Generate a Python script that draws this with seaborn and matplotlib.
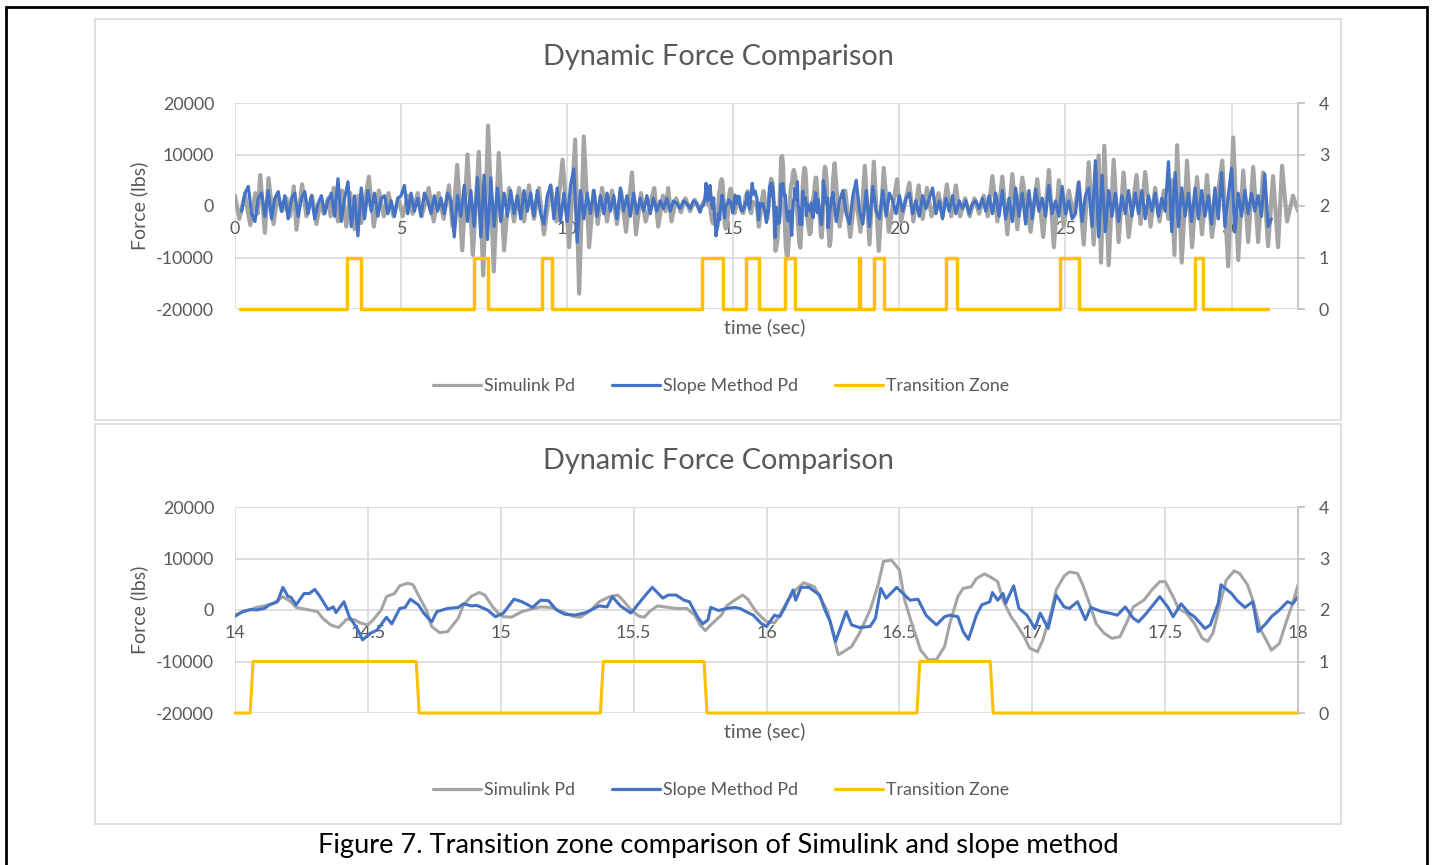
import numpy as np
import pandas as pd
import matplotlib
matplotlib.use("Agg")
import matplotlib.pyplot as plt
import seaborn as sns
from matplotlib.patches import Rectangle
from matplotlib.lines import Line2D

# ---- data (force values in thousands of lbs) ----
# Simulink Pd, 0-14 s (peaks/troughs)
gray_a_t = [0.00, 0.13, 0.30, 0.46, 0.61, 0.68, 0.76, 0.90, 1.01, 1.16,
            1.28, 1.42, 1.55, 1.66, 1.77, 1.85, 2.02, 2.15, 2.32, 2.45,
            2.58, 2.67, 2.80, 2.88, 2.97, 3.10, 3.22, 3.35, 3.47, 3.60,
            3.72, 3.80, 4.03, 4.18, 4.33, 4.48, 4.62, 4.77, 4.92, 5.05,
            5.20, 5.35, 5.50, 5.62, 5.83, 5.98, 6.13, 6.28, 6.44, 6.55,
            6.69, 6.84, 7.00, 7.16, 7.34, 7.47, 7.62, 7.79, 7.94, 8.10,
            8.25, 8.40, 8.55, 8.70, 8.85, 9.00, 9.15, 9.30, 9.50, 9.68,
            9.86, 10.06, 10.24, 10.36, 10.50, 10.66, 10.80, 10.92, 11.05, 11.20,
            11.35, 11.50, 11.62, 11.77, 11.95, 12.07, 12.22, 12.36, 12.62, 12.74,
            12.88, 12.96, 13.04, 13.14, 13.28, 13.42, 13.56, 13.70, 13.84]
gray_a_k = [2.0, -2.5, 2.2, -3.7, 2.5, -1.5, 6.0, -5.2, 5.4, -3.5,
            2.0, -1.0, 1.5, -2.0, 3.8, -4.6, 4.2, -2.0, 2.0, -3.5,
            1.0, -1.5, 1.5, -2.0, 3.5, -3.0, 3.0, -4.0, 2.5, -4.5,
            2.0, -3.3, 5.7, -4.0, 3.0, -2.0, 2.5, -2.0, 1.5, -2.0,
            2.0, -1.5, 2.5, -2.0, 3.5, -3.0, 2.5, -2.5, 4.0, -4.0,
            8.0, -8.6, 10.0, -9.5, 10.5, -13.5, 15.6, -12.7, 10.3, -8.6,
            3.5, -3.0, 3.5, -3.0, 4.0, -2.5, 3.5, -5.5, 4.0, -3.0,
            9.0, -8.0, 12.9, -17.0, 13.5, -8.0, 3.0, -3.5, 3.5, -3.0,
            3.0, -3.5, 3.0, -5.0, 6.5, -5.5, 2.5, -3.0, 3.5, -4.0,
            2.0, -1.0, 3.5, -3.0, 1.5, -1.2, 1.5, -1.0, 1.2]

# Simulink Pd, 18-32 s
gray_c_t = [18.05, 18.20, 18.37, 18.52, 18.67, 18.83, 18.96, 19.10, 19.23, 19.38,
            19.53, 19.68, 19.93, 20.05, 20.30, 20.42, 20.58, 20.70, 20.83, 20.97,
            21.18, 21.30, 21.43, 21.56, 21.70, 21.83, 21.98, 22.12, 22.26, 22.40,
            22.54, 22.66, 22.80, 22.95, 23.10, 23.25, 23.40, 23.55, 23.70, 23.95,
            24.15, 24.33, 24.50, 24.65, 24.80, 24.95, 25.10, 25.25, 25.40, 25.55,
            25.70, 25.85, 26.00, 26.07, 26.17, 26.30, 26.45, 26.60, 26.75, 26.90,
            27.14, 27.26, 27.40, 27.56, 27.70, 27.83, 27.96, 28.10, 28.20, 28.28,
            28.36, 28.50, 28.66, 28.81, 28.96, 29.11, 29.26, 29.41, 29.72, 29.90,
            30.05, 30.20, 30.35, 30.50, 30.65, 30.80, 30.95, 31.10, 31.25, 31.40,
            31.52, 31.67, 31.85, 32.00]
gray_c_k = [8.3, -4.0, 3.0, -6.0, 2.5, -5.0, 7.8, -7.5, 8.6, -8.7,
            7.4, -5.0, 5.2, -3.0, 4.5, -3.0, 4.0, -2.5, 3.5, -2.0,
            2.5, -2.0, 4.2, -2.0, 4.0, -2.0, 1.5, -2.0, 1.5, -1.5,
            2.0, -2.0, 5.8, -3.0, 5.7, -5.5, 6.2, -4.5, 5.5, -5.0,
            5.2, -6.0, 7.0, -8.0, 5.0, -4.0, 3.0, -2.0, 4.5, -7.5,
            8.5, -7.5, 9.8, -11.0, 11.7, -11.5, 9.0, -7.0, 6.5, -6.0,
            6.0, -3.5, 6.6, -4.0, 3.5, -3.0, 3.0, -2.5, 5.0, -9.5,
            11.8, -11.0, 8.8, -8.0, 5.6, -5.5, 6.0, -6.0, 8.8, -11.7,
            13.3, -10.5, 6.9, -7.0, 7.6, -7.0, 6.5, -7.8, 5.8, -8.0,
            7.8, -3.0, 2.0, -1.0]

# Slope Method Pd, sampled every 0.1 s: 0.2-13.9 s and 18.1-31.2 s
blue_step = 0.1
blue_a_start = 0.2
blue_a_k = [-1.0, 2.5, 3.8, -1.5, -3.0, 1.5, 2.5, -2.0,
            3.0, -2.5, 1.5, 2.8, -1.0, 2.0, -2.5, 1.5, 2.5, -2.0,
            1.5, 2.8, -1.5, 2.0, -2.5, 0.5, 2.0, -1.5, 1.0, 2.5,
            -2.0, 5.3, -3.0, 1.5, 4.7, -4.0, 2.0, -5.8, 3.5, -2.5,
            3.0, -1.0, 2.5, -2.0, 1.5, 2.0, -1.5, 1.0, -2.0, 1.5,
            2.0, 4.0, -1.5, 2.5, -1.0, 1.5, -2.0, 2.5, 1.0, -1.5,
            2.0, -1.0, 1.5, -1.5, 2.5, 1.0, -6.0, 2.0, -2.0, 4.0,
            -3.0, 3.0, -4.0, 5.5, -6.0, 6.0, -6.5, 5.5, -4.0, 3.5,
            -3.0, 2.5, -2.0, 3.0, -1.5, 2.0, -2.5, 3.0, -1.0, 2.5,
            -2.0, 3.0, -1.5, -3.5, 2.0, 4.0, -2.5, 3.5, -3.0, 2.5,
            -3.0, 4.0, 7.2, -7.0, 3.0, -2.5, 2.5, -1.5, 3.0, -2.0,
            2.0, -1.5, 2.5, -1.0, 2.0, -2.5, 3.5, -1.0, 2.0, -2.0,
            2.5, -1.5, 1.5, -1.0, 2.0, -1.5, 1.5, -1.0, 1.0, -0.5,
            1.5, -1.0, 1.0, 0.5, -0.5, 1.0, 0.5, -0.5, 1.0, 0.5]
blue_c_start = 18.1
blue_c_k = [-3.0, 1.0, 3.0, -1.5, -3.5, 2.0, 5.0, -1.0, -3.5,
            3.0, -4.0, 3.8, -1.0, -2.5, 3.0, -2.0, 2.5, 1.0, -1.5,
            2.0, -1.0, 1.5, 2.5, -1.5, 1.0, -2.0, 2.0, -0.5, 1.5,
            3.5, -1.5, 1.0, -2.5, 1.5, -1.0, 2.0, -1.5, 1.0, -0.5,
            1.0, -1.5, 0.5, 1.0, -0.5, 1.5, -1.0, 2.0, -1.5, 2.5,
            -2.0, 3.0, -2.5, 1.5, -3.0, 3.5, -2.0, 2.5, -3.5, 3.0,
            -2.5, 3.3, -1.0, 1.5, -2.0, 4.0, -1.5, 1.0, -2.0, 3.8,
            -1.5, 1.0, -2.5, -1.5, 4.7, -3.0, 2.0, 3.5, -4.0, 8.8,
            -6.0, 6.0, -5.0, 3.0, -2.0, 2.5, -3.0, 2.0, -1.5, 3.0,
            -2.0, 2.5, -1.5, 3.0, -2.5, 2.0, -1.0, 2.5, -2.0, 1.5,
            -1.0, 8.6, -5.0, 6.5, -4.0, 3.5, -2.0, 2.5, -3.0, 3.5,
            -2.5, 3.0, -2.0, 2.0, -3.5, 3.5, -2.5, 6.5, -4.0, 2.0,
            7.3, -5.0, 2.5, -2.0, 3.0, -1.5, 2.5, -1.0, 2.0, -2.0,
            6.2, -4.0, -2.5]

# 14-18 s detail (lower chart, also used in the upper chart)
sim_t = [14.00, 14.03, 14.06, 14.08, 14.11, 14.145, 14.18, 14.21, 14.23, 14.27,
         14.31, 14.33, 14.36, 14.39, 14.42, 14.45, 14.47, 14.50, 14.52, 14.55,
         14.57, 14.60, 14.62, 14.65, 14.67, 14.69, 14.72, 14.74, 14.77, 14.80,
         14.84, 14.86, 14.89, 14.92, 14.94, 14.97, 14.99, 15.01, 15.04, 15.08,
         15.11, 15.15, 15.19, 15.23, 15.27, 15.30, 15.34, 15.37, 15.41, 15.44,
         15.46, 15.49, 15.52, 15.54, 15.56, 15.59, 15.63, 15.66, 15.70, 15.73,
         15.75, 15.77, 15.79, 15.83, 15.85, 15.88, 15.91, 15.93, 15.96, 16.00,
         16.03, 16.05, 16.08, 16.11, 16.14, 16.18, 16.20, 16.23, 16.25, 16.27,
         16.29, 16.32, 16.35, 16.39, 16.42, 16.44, 16.47, 16.50, 16.52, 16.55,
         16.58, 16.61, 16.64, 16.67, 16.69, 16.72, 16.74, 16.77, 16.79, 16.82,
         16.84, 16.87, 16.89, 16.92, 16.94, 16.97, 16.99, 17.02, 17.04, 17.07,
         17.09, 17.12, 17.14, 17.17, 17.19, 17.22, 17.24, 17.27, 17.30, 17.33,
         17.36, 17.38, 17.42, 17.45, 17.48, 17.50, 17.53, 17.55, 17.58, 17.61,
         17.64, 17.66, 17.68, 17.71, 17.73, 17.76, 17.78, 17.81, 17.83, 17.86,
         17.88, 17.90, 17.93, 17.95, 17.98, 18.00]
sim_k = [-1.0, -0.3, 0.1, 0.5, 0.8, 1.3, 2.6, 1.6, 0.5, 0.1,
         -0.3, -1.6, -2.9, -3.4, -1.8, -1.9, -2.5, -2.9, -1.9, 0.0,
         2.6, 3.2, 4.7, 5.2, 4.9, 2.9, 0.0, -3.2, -4.4, -4.2,
         -1.6, 1.0, 2.7, 3.4, 2.9, 0.6, -0.6, -1.3, -1.4, -0.3,
         0.1, 0.6, 0.5, -0.3, -1.2, -1.4, 0.0, 1.6, 2.6, 2.9,
         1.9, 0.0, -1.2, -1.4, -0.3, 0.8, 0.5, 0.3, 0.3, -1.0,
         -2.9, -4.0, -2.9, -1.0, 0.8, 1.9, 2.9, 2.1, -0.3, -2.3,
         -2.5, -1.0, 1.9, 3.9, 5.3, 4.5, 2.6, -0.3, -4.5, -8.7,
         -8.1, -7.1, -4.5, 0.0, 4.9, 9.4, 9.7, 7.8, 1.9, -3.2,
         -7.8, -9.7, -9.6, -7.1, -2.6, 2.6, 4.2, 4.5, 6.1, 7.0,
         6.5, 5.5, 1.9, -1.3, -2.7, -5.2, -7.4, -8.1, -5.8, -0.6,
         3.9, 6.6, 7.4, 7.1, 4.9, 0.6, -2.6, -4.5, -5.5, -5.2,
         -1.9, 0.6, 1.9, 3.9, 5.5, 5.5, 2.6, 0.3, -0.6, -2.6,
         -5.5, -6.1, -4.5, 1.9, 5.8, 7.6, 7.1, 4.9, 1.9, -3.9,
         -5.8, -7.8, -6.5, -3.2, 1.3, 4.9]

slope_t = [14.00, 14.03, 14.06, 14.08, 14.11, 14.13, 14.16, 14.18, 14.20, 14.21,
           14.23, 14.26, 14.28, 14.30, 14.32, 14.35, 14.37, 14.38, 14.41, 14.43,
           14.46, 14.48, 14.51, 14.535, 14.57, 14.59, 14.62, 14.64, 14.66, 14.69,
           14.71, 14.74, 14.76, 14.80, 14.84, 14.86, 14.89, 14.91, 14.95, 14.98,
           15.01, 15.05, 15.08, 15.12, 15.15, 15.18, 15.21, 15.24, 15.28, 15.32,
           15.34, 15.37, 15.40, 15.42, 15.45, 15.49, 15.52, 15.54, 15.57, 15.61,
           15.63, 15.66, 15.69, 15.71, 15.74, 15.76, 15.78, 15.79, 15.82, 15.85,
           15.88, 15.90, 15.93, 15.95, 15.98, 16.00, 16.03, 16.05, 16.07, 16.10,
           16.11, 16.13, 16.16, 16.20, 16.22, 16.24, 16.26, 16.28, 16.30, 16.32,
           16.35, 16.39, 16.41, 16.43, 16.45, 16.49, 16.54, 16.57, 16.60, 16.62,
           16.64, 16.67, 16.69, 16.72, 16.74, 16.76, 16.79, 16.81, 16.84, 16.85,
           16.87, 16.89, 16.90, 16.93, 16.95, 16.98, 17.01, 17.03, 17.06, 17.09,
           17.12, 17.14, 17.17, 17.20, 17.22, 17.26, 17.29, 17.32, 17.35, 17.38,
           17.40, 17.43, 17.46, 17.48, 17.51, 17.53, 17.56, 17.59, 17.61, 17.65,
           17.67, 17.70, 17.71, 17.75, 17.77, 17.80, 17.83, 17.85, 17.88, 17.90,
           17.93, 17.96, 17.98, 18.00]
slope_k = [-1.2, -0.3, 0.1, 0.0, 0.3, 1.0, 1.6, 4.4, 2.6, 2.5,
           1.0, 3.2, 3.2, 4.0, 2.6, 0.1, 0.6, -0.5, 1.6, -1.3,
           -3.6, -5.8, -4.5, -3.9, -1.4, -2.7, 0.3, 0.5, 2.1, 1.0,
           -0.6, -2.3, -0.3, 0.3, 0.5, 1.2, 0.8, 0.9, 0.0, -1.3,
           -0.6, 2.1, 1.6, 0.5, 1.9, 1.8, 0.0, -0.8, -1.0, -0.5,
           0.0, 0.8, 0.6, 2.6, 0.8, -0.6, 1.3, 2.6, 4.4, 2.3,
           2.9, 2.9, 1.9, 1.6, -1.3, -2.7, -1.9, 0.5, -0.1, 0.3,
           0.5, 0.3, -0.5, -1.0, -2.6, -3.2, -1.0, -1.3, 0.6, 3.9,
           1.9, 4.4, 4.4, 2.9, 0.0, -2.3, -6.1, -3.2, -0.3, -2.9,
           -3.4, -3.2, -1.6, 4.2, 2.3, 4.4, 1.9, 2.1, -1.0, -2.0,
           -2.9, -1.3, -1.0, -1.3, -4.2, -5.7, -1.0, 1.0, 1.6, 3.4,
           1.9, 3.2, 1.3, 4.7, 0.3, -1.0, -3.6, -0.6, -3.6, 2.9,
           0.6, 0.3, 1.6, -1.9, 0.5, -0.3, -0.6, -1.0, 0.6, -1.6,
           -2.3, -0.6, 1.3, 2.6, 0.6, -1.3, 1.2, -0.6, -1.3, -3.6,
           -2.9, 1.3, 4.9, 3.2, 1.9, 0.5, 1.6, -4.2, -2.6, -1.3,
           0.0, 1.6, 1.2, 2.6]

# Transition Zone (0/1) on/off times
zone_start, zone_end = 0.15, 31.09
zone_on = [3.37, 7.18, 9.23, 14.05, 15.37, 16.56, 18.77, 19.25, 21.40, 24.85, 28.89]
zone_off = [3.78, 7.62, 9.53, 14.70, 15.76, 16.86, 18.81, 19.55, 21.73, 25.40, 29.15]
zone_on_detail = [14.057, 15.375, 16.566]
zone_off_detail = [14.682, 15.765, 16.842]

top_xticks = [0, 5, 10, 15, 20, 25, 30]
bot_xticks = [14, 14.5, 15, 15.5, 16, 16.5, 17, 17.5, 18]
bot_xlabels = ["14", "14.5", "15", "15.5", "16", "16.5", "17", "17.5", "18"]
force_ticks = [-20000, -10000, 0, 10000, 20000]
zone_ticks = [0, 1, 2, 3, 4]

GRAY, BLUE, GOLD = "#A5A5A5", "#4472C4", "#FFC000"
TXT = "#595959"

# ---- build series ----
blue_a_t = [round(blue_a_start + i * blue_step, 2) for i in range(len(blue_a_k))]
blue_c_t = [round(blue_c_start + i * blue_step, 2) for i in range(len(blue_c_k))]

top_sim = pd.DataFrame({"t": gray_a_t + sim_t + gray_c_t,
                        "f": np.array(gray_a_k + sim_k + gray_c_k) * 1000})
top_slope = pd.DataFrame({"t": blue_a_t + slope_t + blue_c_t,
                          "f": np.array(blue_a_k + slope_k + blue_c_k) * 1000})
bot_sim = pd.DataFrame({"t": sim_t, "f": np.array(sim_k) * 1000})
bot_slope = pd.DataFrame({"t": slope_t, "f": np.array(slope_k) * 1000})


def zone_series(start, end, ons, offs, ramp):
    t, v = [start], [0]
    for a, b in zip(ons, offs):
        t += [a, a + ramp, b, b + ramp]
        v += [0, 1, 1, 0]
    t.append(end)
    v.append(0)
    return pd.DataFrame({"t": t, "z": v})


top_zone = zone_series(zone_start, zone_end, zone_on, zone_off, 0.0)
bot_zone = zone_series(14.0, 18.0, zone_on_detail, zone_off_detail, 0.011)

# ---- figure ----
sns.set_theme(style="white")
plt.rcParams['font.family'] = ['Lato', 'DejaVu Sans']
plt.rcParams['axes.unicode_minus'] = False

W, H = 1434, 865
fig = plt.figure(figsize=(W / 100, H / 100), dpi=100)


def fx(p):
    return p / W


def fy(p):
    return 1 - p / H


fig.add_artist(Rectangle((fx(6), fy(900)), fx(1427) - fx(6), fy(7) - fy(900),
                         transform=fig.transFigure, fill=False, ec="black", lw=2))
for top, bot in [(19, 420), (424, 824)]:
    fig.add_artist(Rectangle((fx(95), fy(bot)), fx(1341) - fx(95), fy(top) - fy(bot),
                             transform=fig.transFigure, fill=False, ec="#D9D9D9", lw=1.2))


def draw_chart(y_top, sim, slope, zone, xlim, xticks, xlabels, lw):
    y_bot = y_top + 206
    ax = fig.add_axes([fx(235), fy(y_bot), fx(1298) - fx(235), fy(y_top) - fy(y_bot)])
    sns.lineplot(data=sim, x="t", y="f", ax=ax, color=GRAY, linewidth=lw[0],
                 estimator=None, sort=False)
    sns.lineplot(data=slope, x="t", y="f", ax=ax, color=BLUE, linewidth=lw[1],
                 estimator=None, sort=False)
    ax.set_xlim(xlim)
    ax.set_ylim(-20000, 20000)
    ax.set_yticks(force_ticks)
    ax.set_xticks(xticks)
    ax.set_xticklabels(xlabels)
    ax.grid(True, color="#D9D9D9", linewidth=1.2)
    ax.set_axisbelow(True)
    for s in ax.spines.values():
        s.set_visible(False)
    ax.spines["bottom"].set_position(("data", 0))
    ax.tick_params(axis="both", length=0, labelsize=12.8, labelcolor=TXT)
    ax.tick_params(axis="x", pad=11)
    ax.tick_params(axis="y", pad=15)
    ax.set_xlabel("")
    ax.set_ylabel("")

    axr = ax.twinx()
    sns.lineplot(data=zone, x="t", y="z", ax=axr, color=GOLD, linewidth=lw[2],
                 estimator=None, sort=False, clip_on=False)
    axr.set_ylim(0, 4)
    axr.set_yticks(zone_ticks)
    axr.grid(False)
    for k, s in axr.spines.items():
        s.set_visible(k == "right")
    axr.spines["right"].set_color("#BFBFBF")
    axr.spines["right"].set_linewidth(1.2)
    axr.tick_params(axis="y", length=5, width=1.2, color="#BFBFBF",
                    labelsize=12.8, labelcolor=TXT, pad=10)
    axr.set_ylabel("")

    fig.text(fx(718), fy(y_top - 46), "Dynamic Force Comparison", ha="center",
             va="center", fontsize=20.8, color=TXT)
    fig.text(fx(139), fy(y_top + 103), "Force (lbs)", rotation=90, ha="center",
             va="center", fontsize=14, color=TXT)
    fig.text(fx(765), fy(y_top + 224), "time (sec)", ha="center", va="center",
             fontsize=14, color=TXT)
    handles = [Line2D([], [], color=c, lw=2.3) for c in (GRAY, BLUE, GOLD)]
    fig.legend(handles, ["Simulink Pd", "Slope Method Pd", "Transition Zone"],
               loc="center", bbox_to_anchor=(fx(721), fy(y_top + 283)), ncol=3,
               frameon=False, fontsize=12.8, handlelength=2.7, handletextpad=0.15,
               columnspacing=2.1, labelcolor=TXT)
    return ax


draw_chart(103, top_sim, top_slope, top_zone, (0, 32), top_xticks,
           [str(v) for v in top_xticks], (3.0, 2.3, 2.5))
draw_chart(507, bot_sim, bot_slope, bot_zone, (14, 18), bot_xticks,
           bot_xlabels, (2.2, 2.2, 2.2))

fig.text(fx(718), fy(845), "Figure 7. Transition zone comparison of Simulink and slope method",
         ha="center", va="center", fontsize=19.6, color="black")

fig.savefig("out.png", dpi=100)
